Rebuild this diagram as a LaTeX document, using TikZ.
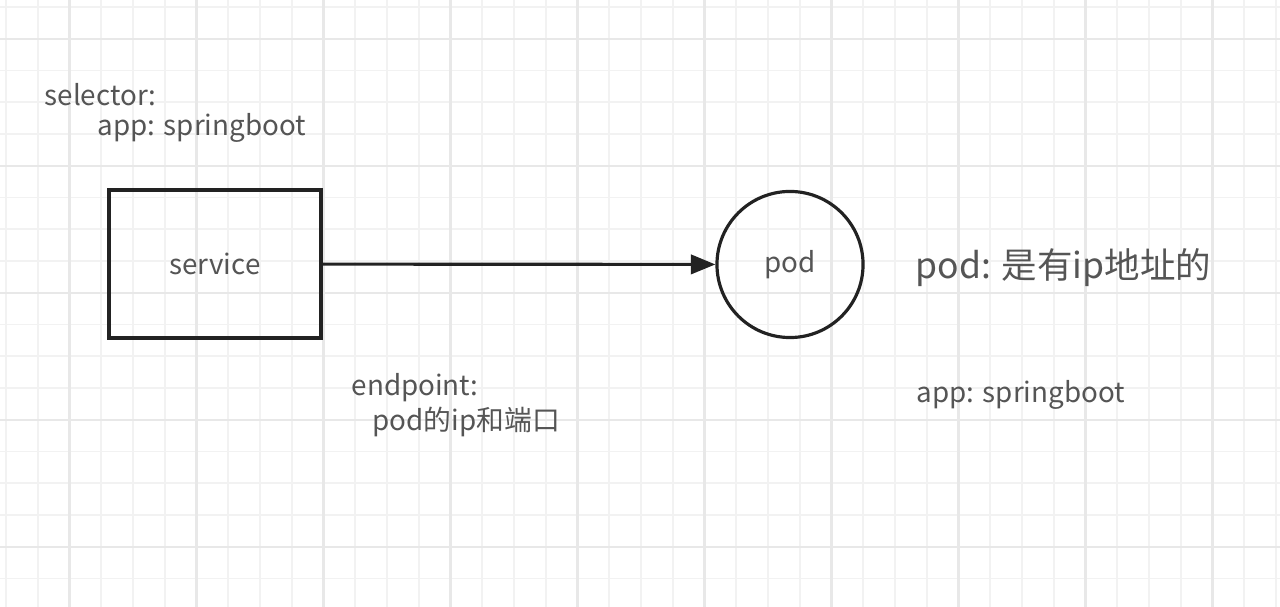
\documentclass[tikz,border=0pt]{standalone}
\usepackage{fontspec}
\setmainfont{Noto Sans CJK SC}
\usetikzlibrary{arrows.meta,positioning}
\definecolor{gridminor}{HTML}{F2F2F2}
\definecolor{gridmajor}{HTML}{E8E8E8}
\definecolor{textgray}{HTML}{555555}
\definecolor{edgegray}{HTML}{222222}
\begin{document}
\begin{tikzpicture}[x=0.01cm, y=-0.01cm,
    note/.style={anchor=west, inner sep=0pt, text=textgray, font=\fontsize{7.9}{9}\selectfont},
    bignote/.style={anchor=west, inner sep=0pt, text=textgray, font=\fontsize{10.1}{12}\selectfont},
    svcbox/.style={rectangle, draw=edgegray, line width=0.9pt, minimum width=2.12cm, minimum height=1.48cm, text=textgray, font=\fontsize{7.9}{9}\selectfont},
    podnode/.style={circle, draw=edgegray, line width=0.9pt, minimum size=1.46cm, text=textgray, font=\fontsize{7.9}{9}\selectfont}]
    \useasboundingbox[fill=white] (0,0) rectangle (1280,607);
    % grid
    \foreach \i in {0,...,40} \draw[gridminor, line width=0.5pt] ({6+31.75*\i},0) -- ++(0,607);
    \foreach \j in {0,...,18} \draw[gridminor, line width=0.5pt] (0,{7+31.75*\j}) -- ++(1280,0);
    \foreach \x in {69.5,196.5,...,1280} \draw[gridmajor, line width=0.7pt] (\x,0) -- ++(0,607);
    \foreach \y in {38.75,165.75,...,607} \draw[gridmajor, line width=0.7pt] (0,\y) -- ++(1280,0);

    \node[svcbox] (service) at (215,264) {service};
    \node[podnode] (pod) at (790,264.5) {pod};
    \node[note] (selector) at (44,95) {selector:};
    \node[note] (selapp) at (97,128) {app: springboot};
    \node[bignote] (podip) at (915,268) {pod: 是有ip地址的};
    \node[note] (endpoint) at (351,388) {endpoint:};
    \node[note] (epinfo) at (372,422) {pod的ip和端口};
    \node[note] (podapp) at (916,395) {app: springboot};

    \draw[edgegray, line width=0.9pt, -{Triangle[length=7pt, width=5.5pt]}] (service) -- (pod);
\end{tikzpicture}
\end{document}
